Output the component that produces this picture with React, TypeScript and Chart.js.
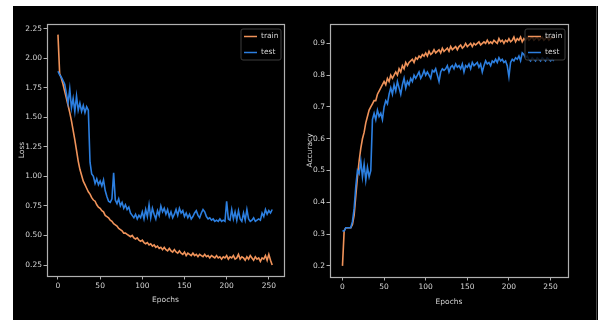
import React, { useEffect, useRef } from "react";
import { Chart, registerables } from "chart.js";

Chart.register(...registerables);

// ---------- data ----------
const epochs = [
  0, 2, 4, 6, 8, 10, 12, 14, 16, 18,
  20, 22, 24, 26, 28, 30, 32, 34, 36, 38,
  40, 42, 44, 46, 48, 50, 52, 54, 56, 58,
  60, 62, 64, 66, 68, 70, 72, 74, 76, 78,
  80, 82, 84, 86, 88, 90, 92, 94, 96, 98,
  100, 102, 104, 106, 108, 110, 112, 114, 116, 118,
  120, 122, 124, 126, 128, 130, 132, 134, 136, 138,
  140, 142, 144, 146, 148, 150, 152, 154, 156, 158,
  160, 162, 164, 166, 168, 170, 172, 174, 176, 178,
  180, 182, 184, 186, 188, 190, 192, 194, 196, 198,
  200, 202, 204, 206, 208, 210, 212, 214, 216, 218,
  220, 222, 224, 226, 228, 230, 232, 234, 236, 238,
  240, 242, 244, 246, 248, 250, 252, 254,
];

const trainLoss = [
  2.2, 1.87, 1.83, 1.78, 1.72, 1.66, 1.6, 1.54, 1.47, 1.39,
  1.31, 1.22, 1.13, 1.06, 1.01, 0.96, 0.93, 0.9, 0.87, 0.85,
  0.82, 0.8, 0.79, 0.76, 0.74, 0.73, 0.71, 0.7, 0.67, 0.66,
  0.65, 0.63, 0.62, 0.6, 0.59, 0.58, 0.56, 0.55, 0.54, 0.52,
  0.52, 0.51, 0.5, 0.49, 0.5, 0.48, 0.47, 0.48, 0.46, 0.45,
  0.46, 0.44, 0.43, 0.44, 0.42, 0.43, 0.41, 0.42, 0.4, 0.41,
  0.39, 0.4, 0.38, 0.4, 0.38, 0.37, 0.39, 0.37, 0.36, 0.38,
  0.36, 0.35, 0.37, 0.35, 0.34, 0.36, 0.33, 0.35, 0.34, 0.33,
  0.35, 0.33, 0.34, 0.32, 0.34, 0.33, 0.32, 0.34, 0.32, 0.33,
  0.31, 0.33, 0.32, 0.31, 0.33, 0.31, 0.32, 0.3, 0.32, 0.31,
  0.33, 0.3, 0.32, 0.31, 0.33, 0.3, 0.31, 0.34, 0.3, 0.32,
  0.31, 0.29, 0.32, 0.3, 0.33, 0.31, 0.29, 0.32, 0.3, 0.31,
  0.28, 0.31, 0.3, 0.33, 0.29, 0.34, 0.29, 0.25,
];

const testLoss = [
  1.89, 1.86, 1.84, 1.81, 1.78, 1.7, 1.62, 1.74, 1.58, 1.66,
  1.55, 1.68, 1.56, 1.62, 1.55, 1.6, 1.54, 1.59, 1.56, 1.12,
  1.02, 1.0, 0.94, 0.98, 0.93, 0.96, 0.92, 0.97, 0.88, 0.83,
  0.79, 0.78, 0.81, 1.03, 0.8, 0.77, 0.81, 0.75, 0.78, 0.73,
  0.76, 0.72, 0.74, 0.69, 0.67, 0.65, 0.68, 0.64, 0.67, 0.65,
  0.7, 0.64, 0.72, 0.66, 0.76, 0.65, 0.73, 0.68, 0.64, 0.71,
  0.67, 0.75, 0.7, 0.73, 0.68, 0.72, 0.66, 0.7, 0.65, 0.68,
  0.72, 0.67, 0.73, 0.69, 0.71, 0.66, 0.69, 0.65, 0.68, 0.64,
  0.66, 0.69, 0.71, 0.67, 0.65, 0.69, 0.72, 0.7, 0.66, 0.64,
  0.65, 0.63, 0.64, 0.62, 0.63, 0.62, 0.64, 0.62, 0.63, 0.62,
  0.79, 0.64, 0.63, 0.72, 0.64, 0.7, 0.63, 0.71, 0.64, 0.62,
  0.69, 0.63, 0.72, 0.64, 0.62, 0.63, 0.65, 0.62, 0.63, 0.64,
  0.63, 0.69, 0.66, 0.72, 0.68, 0.71, 0.69, 0.72,
];

const trainAcc = [
  0.2, 0.31, 0.32, 0.32, 0.32, 0.32, 0.33, 0.36, 0.42, 0.48,
  0.53, 0.57, 0.6, 0.62, 0.65, 0.67, 0.69, 0.7, 0.71, 0.72,
  0.72, 0.74, 0.75, 0.76, 0.77, 0.78, 0.77, 0.79, 0.78, 0.8,
  0.79, 0.8, 0.81, 0.8, 0.82, 0.81, 0.83, 0.82, 0.84, 0.83,
  0.84, 0.845, 0.85, 0.84, 0.855, 0.85, 0.86, 0.855, 0.865, 0.86,
  0.87, 0.86, 0.875, 0.865, 0.87, 0.88, 0.87, 0.875, 0.88, 0.87,
  0.885, 0.875, 0.88, 0.885, 0.875, 0.89, 0.88, 0.885, 0.89, 0.88,
  0.89, 0.895, 0.885, 0.89, 0.9, 0.89, 0.895, 0.9, 0.89, 0.9,
  0.895, 0.9, 0.905, 0.895, 0.9, 0.905, 0.9, 0.91, 0.9, 0.905,
  0.9, 0.91, 0.905, 0.9, 0.915, 0.905, 0.91, 0.9, 0.91, 0.905,
  0.915, 0.905, 0.91, 0.92, 0.905, 0.915, 0.91, 0.92, 0.905, 0.915,
  0.91, 0.92, 0.91, 0.915, 0.92, 0.91, 0.915, 0.92, 0.91, 0.915,
  0.92, 0.91, 0.915, 0.92, 0.91, 0.915, 0.92, 0.915,
];

const testAcc = [
  0.31, 0.31, 0.32, 0.32, 0.32, 0.32, 0.34, 0.38, 0.45, 0.5,
  0.49, 0.53, 0.48, 0.52, 0.47, 0.51, 0.48, 0.5, 0.66, 0.68,
  0.66, 0.69, 0.67, 0.68, 0.66, 0.7, 0.72, 0.71, 0.74, 0.76,
  0.74, 0.77, 0.75, 0.78, 0.76, 0.74, 0.77, 0.79, 0.76, 0.78,
  0.77, 0.79, 0.78, 0.8, 0.79, 0.8, 0.81, 0.79, 0.8, 0.815,
  0.8, 0.81, 0.8, 0.79, 0.815, 0.81, 0.82, 0.8, 0.78, 0.81,
  0.82, 0.815, 0.82, 0.83, 0.81, 0.825, 0.83, 0.82, 0.835, 0.825,
  0.83, 0.82, 0.835, 0.81, 0.83, 0.825, 0.835, 0.82, 0.84, 0.83,
  0.835, 0.84, 0.825, 0.835, 0.81, 0.83, 0.845, 0.835, 0.84, 0.83,
  0.845, 0.84, 0.85, 0.84, 0.855, 0.845, 0.85, 0.84, 0.845, 0.83,
  0.795, 0.84, 0.85, 0.845, 0.855, 0.85, 0.86, 0.845, 0.87, 0.865,
  0.855, 0.86, 0.85, 0.845, 0.855, 0.85, 0.845, 0.855, 0.85, 0.845,
  0.855, 0.85, 0.845, 0.855, 0.85, 0.845, 0.85, 0.845,
];

const xTicks = [0, 50, 100, 150, 200, 250];
const lossTicks = [0.25, 0.5, 0.75, 1.0, 1.25, 1.5, 1.75, 2.0, 2.25];
const accTicks = [0.2, 0.3, 0.4, 0.5, 0.6, 0.7, 0.8, 0.9];
const seriesLabels = ["train", "test"];

// ---------- style ----------
const ORANGE = "#f0935a";
const BLUE = "#2c7fe0";
const TEXT = "#d6d6d6";
const FRAME = "#b0b0b0";
const FONT = "'DejaVu Sans', sans-serif";

const framePlugin = {
  id: "mplFrame",
  afterDatasetsDraw(chart: any) {
    const { ctx, chartArea } = chart;
    ctx.save();
    ctx.strokeStyle = FRAME;
    ctx.lineWidth = 1.2;
    ctx.strokeRect(
      Math.round(chartArea.left) + 0.5,
      Math.round(chartArea.top) + 0.5,
      Math.round(chartArea.right - chartArea.left),
      Math.round(chartArea.bottom - chartArea.top)
    );
    // legend (drawn above the lines, like matplotlib)
    const w = 40;
    const h = 31;
    const x = chartArea.right - 3 - w;
    const y = chartArea.top + 5;
    const r = 2;
    ctx.beginPath();
    ctx.moveTo(x + r, y);
    ctx.lineTo(x + w - r, y);
    ctx.quadraticCurveTo(x + w, y, x + w, y + r);
    ctx.lineTo(x + w, y + h - r);
    ctx.quadraticCurveTo(x + w, y + h, x + w - r, y + h);
    ctx.lineTo(x + r, y + h);
    ctx.quadraticCurveTo(x, y + h, x, y + h - r);
    ctx.lineTo(x, y + r);
    ctx.quadraticCurveTo(x, y, x + r, y);
    ctx.closePath();
    ctx.fillStyle = "rgba(0,0,0,0.82)";
    ctx.fill();
    ctx.strokeStyle = "#3c3c3c";
    ctx.lineWidth = 1;
    ctx.stroke();
    chart.data.datasets.forEach((ds: any, i: number) => {
      const cy = y + 7.5 + i * 16;
      ctx.beginPath();
      ctx.moveTo(x + 3, cy);
      ctx.lineTo(x + 16, cy);
      ctx.strokeStyle = ds.borderColor;
      ctx.lineWidth = 1.5;
      ctx.stroke();
      ctx.fillStyle = TEXT;
      ctx.font = `7.5px ${FONT}`;
      ctx.textBaseline = "middle";
      ctx.textAlign = "left";
      ctx.fillText(ds.label, x + 20, cy);
    });
    ctx.restore();
  },
};

type PanelCfg = {
  a: number[];
  b: number[];
  xMin: number;
  xMax: number;
  yMin: number;
  yMax: number;
  yTicks: number[];
  digits: number;
  yTitle: string;
  padRight: number;
  yWidth: number;
  xHeight: number;
  yTitlePad: number;
  xTitlePad: number;
};

function buildChart(canvas: HTMLCanvasElement, c: PanelCfg) {
  const tickFont = { family: FONT, size: 7.5 };
  return new Chart(canvas, {
    type: "line",
    data: {
      datasets: [
        {
          label: seriesLabels[0],
          data: epochs.map((e, i) => ({ x: e, y: c.a[i] })),
          borderColor: ORANGE,
          backgroundColor: ORANGE,
          borderWidth: 1.6,
          pointRadius: 0,
          tension: 0,
          order: 1,
        },
        {
          label: seriesLabels[1],
          data: epochs.map((e, i) => ({ x: e, y: c.b[i] })),
          borderColor: BLUE,
          backgroundColor: BLUE,
          borderWidth: 1.6,
          pointRadius: 0,
          tension: 0,
          order: 0,
        },
      ],
    },
    options: {
      responsive: false,
      animation: false,
      devicePixelRatio: 1,
      layout: { padding: { top: 18, right: c.padRight, left: 0, bottom: 0 } },
      plugins: {
        legend: { display: false },
        tooltip: { enabled: false },
      },
      scales: {
        x: {
          type: "linear",
          min: c.xMin,
          max: c.xMax,
          afterBuildTicks: (s: any) => {
            s.ticks = xTicks.map((v) => ({ value: v }));
          },
          afterFit: (s: any) => {
            s.height = c.xHeight;
          },
          ticks: {
            color: TEXT,
            font: tickFont,
            padding: 2,
            maxRotation: 0,
            autoSkip: false,
            callback: (v: any) => String(v),
          },
          grid: {
            drawOnChartArea: false,
            drawTicks: true,
            tickLength: 3.5,
            color: FRAME,
            lineWidth: 1,
          },
          border: { display: false },
          title: {
            display: true,
            text: "Epochs",
            color: TEXT,
            font: tickFont,
            padding: { top: 0, bottom: c.xTitlePad },
          },
        },
        y: {
          type: "linear",
          min: c.yMin,
          max: c.yMax,
          afterBuildTicks: (s: any) => {
            s.ticks = c.yTicks.map((v) => ({ value: v }));
          },
          afterFit: (s: any) => {
            s.width = c.yWidth;
          },
          ticks: {
            color: TEXT,
            font: tickFont,
            padding: 1.5,
            autoSkip: false,
            callback: (v: any) => Number(v).toFixed(c.digits),
          },
          grid: {
            drawOnChartArea: false,
            drawTicks: true,
            tickLength: 3.5,
            color: FRAME,
            lineWidth: 1,
          },
          border: { display: false },
          title: {
            display: true,
            text: c.yTitle,
            color: TEXT,
            font: tickFont,
            padding: { top: c.yTitlePad, bottom: 0 },
          },
        },
      },
    },
    plugins: [framePlugin],
  } as any);
}

export default function App() {
  const leftRef = useRef<HTMLCanvasElement | null>(null);
  const rightRef = useRef<HTMLCanvasElement | null>(null);

  useEffect(() => {
    document.body.style.margin = "0";
    const left = buildChart(leftRef.current!, {
      a: trainLoss,
      b: testLoss,
      xMin: -13,
      xMax: 268,
      yMin: 0.157,
      yMax: 2.29,
      yTicks: lossTicks,
      digits: 2,
      yTitle: "Loss",
      padRight: 14,
      yWidth: 34,
      xHeight: 44,
      yTitlePad: 4.3,
      xTitlePad: 15.5,
    });
    const right = buildChart(rightRef.current!, {
      a: trainAcc,
      b: testAcc,
      xMin: -15,
      xMax: 271,
      yMin: 0.165,
      yMax: 0.961,
      yTicks: accTicks,
      digits: 1,
      yTitle: "Accuracy",
      padRight: 28,
      yWidth: 32,
      xHeight: 43,
      yTitlePad: 7.3,
      xTitlePad: 13.5,
    });
    return () => {
      left.destroy();
      right.destroy();
    };
  }, []);

  return (
    <div
      style={{
        position: "fixed",
        left: 0,
        top: 0,
        width: 598,
        height: 320,
        background: "#ffffff",
        overflow: "hidden",
      }}
    >
      <div
        style={{
          position: "absolute",
          left: 13,
          top: 6,
          width: 585,
          height: 314,
          background: "#000000",
        }}
      />
      <div
        style={{
          position: "absolute",
          left: 596,
          top: 6,
          width: 1,
          height: 314,
          background: "#4a4a4a",
        }}
      />
      <canvas
        ref={leftRef}
        width={285}
        height={314}
        style={{ position: "absolute", left: 13, top: 6, width: 285, height: 314, filter: "blur(0.35px)" }}
      />
      <canvas
        ref={rightRef}
        width={298}
        height={314}
        style={{ position: "absolute", left: 298, top: 6, width: 298, height: 314, filter: "blur(0.35px)" }}
      />
    </div>
  );
}
